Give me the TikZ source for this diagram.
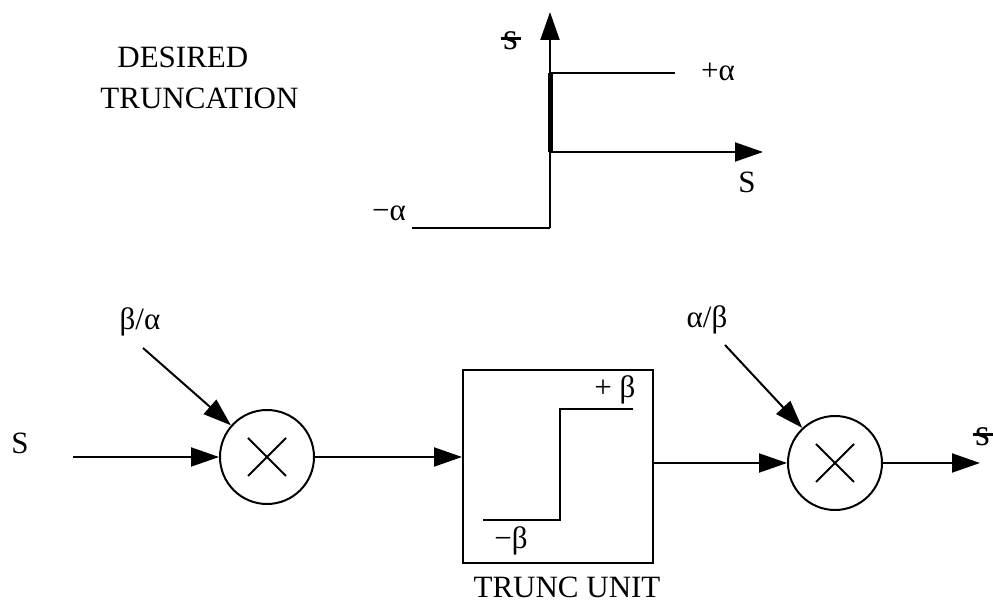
\documentclass[tikz,border=0pt]{standalone}
\usepackage{fontspec}
\setmainfont{Liberation Serif}
\usetikzlibrary{arrows.meta,positioning}
\newcommand{\sest}{{\fontsize{19}{20}\selectfont\ooalign{s\cr\hidewidth\raisebox{0.27em}{\rule{0.55em}{0.07em}}\hidewidth\cr}}}

\begin{document}
\begin{tikzpicture}[x=0.5pt,y=-0.5pt,
  every node/.style={font=\fontsize{15.5}{18}\selectfont,inner sep=0pt},
  conn/.style={line width=1pt,-{Triangle[length=14pt,width=9.5pt]}},
  mult/.style={circle,draw,line width=1pt,minimum size=47pt,
    path picture={\draw[line width=1pt] (path picture bounding box.center)
      +(-9.5pt,-9.5pt) -- +(9.5pt,9.5pt) +(-9.5pt,9.5pt) -- +(9.5pt,-9.5pt);}}]
\useasboundingbox (0,0) rectangle (993,603);
% top: desired characteristic
\node[anchor=west] (lbdes) at (117,57) {DESIRED};
\node[anchor=west] (lbtrunc) at (100,98) {TRUNCATION};
\draw[conn] (550,228) -- (550,12);
\draw[conn] (550,152) -- (763,152);
\draw[line width=1pt] (412,228) -- (550,228);
\draw[line width=2.5pt] (550,152) -- (550,73);
\draw[line width=1pt] (550,73) -- (675,73);
\node (yax) at (511,41) {\sest};
\node (xax) at (747,182) {S};
\node (pa) at (718,72) {+α};
\node (na) at (389,213) {−α};
% bottom: block chain
\node (sin) at (20,443) {S};
\coordinate (sstart) at (73,457);
\node[mult] (m1) at (267,457) {};
\node (ba) at (140,322) {β/α};
\coordinate (bastart) at (143,348);
\node[draw,line width=1pt,minimum width=95pt,minimum height=96.5pt] (tu) at (558,466.5) {};
\node (tulab) at (567,587) {TRUNC UNIT};
\draw[line width=1pt] (483,520) -- (560,520) -- (560,409) -- (633,409);
\node (pb) at (615,390) {+ β};
\node (nb) at (511,541) {−β};
\node[mult] (m2) at (835,463) {};
\node (ab) at (707,320) {α/β};
\coordinate (abstart) at (725,345);
\coordinate (sout) at (980,463);
\node (sres) at (983,437) {\sest};
\draw[conn] (sstart) -- (m1);
\draw[conn] (bastart) -- (m1);
\draw[conn] (m1) -- (m1 -| tu.west);
\draw[conn] (tu.east |- m2) -- (m2);
\draw[conn] (abstart) -- (m2);
\draw[conn] (m2) -- (sout);
\end{tikzpicture}
\end{document}
